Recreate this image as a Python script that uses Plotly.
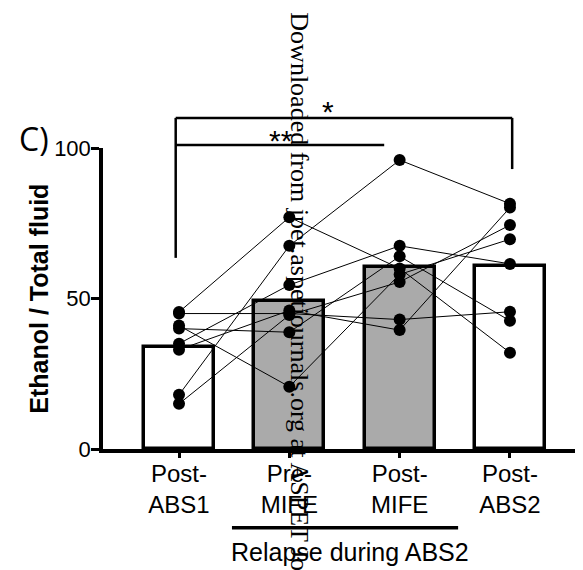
import plotly.graph_objects as go

# ---- data ----
categories = ["Post-<br>ABS1", "Pre-<br>MIFE", "Post-<br>MIFE", "Post-<br>ABS2"]
bar_means = [34.0, 49.2, 60.4, 60.9]
bar_colors = ["white", "#aaaaaa", "#aaaaaa", "white"]

# individual animals: values at Post-ABS1, Pre-MIFE, Post-MIFE, Post-ABS2
animal_A = [45.5, 77.0, 60.0, 32.0]
animal_B = [18.0, 67.5, 96.0, 81.5]
animal_C = [15.0, 44.5, 55.5, 74.4]
animal_D = [41.0, 20.7, 58.0, 69.7]
animal_E = [35.0, 54.5, 67.5, 61.5]
animal_F = [45.0, 45.0, 43.0, 45.6]
animal_G = [40.0, 38.8, 64.0, 42.6]
animal_H = [33.0, 46.0, 39.5, 80.2]
animals = [animal_A, animal_B, animal_C, animal_D, animal_E, animal_F, animal_G, animal_H]

y_ticks = [0, 50, 100]

xpos = list(range(len(categories)))

fig = go.Figure()
fig.add_trace(go.Bar(
    x=xpos, y=bar_means, width=0.635,
    marker=dict(color=bar_colors, line=dict(color="black", width=3.5)),
    showlegend=False, hoverinfo="skip",
))
for a in animals:
    fig.add_trace(go.Scatter(
        x=xpos, y=a, mode="lines+markers",
        line=dict(color="black", width=1),
        marker=dict(color="black", size=12),
        showlegend=False,
    ))

YMAX = 100.0
def py(v):
    return v / YMAX

line_kw = dict(color="black", width=2.5)
shapes = [
    # * bracket
    dict(type="line", xref="x", yref="paper", x0=-0.03, x1=3.02, y0=py(110), y1=py(110), line=line_kw),
    dict(type="line", xref="x", yref="paper", x0=-0.03, x1=-0.03, y0=py(110), y1=py(63.5), line=line_kw),
    dict(type="line", xref="x", yref="paper", x0=3.02, x1=3.02, y0=py(110), y1=py(93), line=line_kw),
    # ** bracket
    dict(type="line", xref="x", yref="paper", x0=-0.03, x1=1.86, y0=py(101), y1=py(101), line=line_kw),
    # relapse line
    dict(type="line", xref="x", yref="paper", x0=0.48, x1=2.53, y0=-0.262, y1=-0.262,
         line=dict(color="black", width=3.5)),
]

base = dict(showarrow=False, xanchor="center", yanchor="middle")
annotations = [
    dict(text="*", xref="x", yref="paper", x=1.35, y=1.12,
         font=dict(size=30, color="black", family="Liberation Sans"), **base),
    dict(text="**", xref="x", yref="paper", x=0.92, y=1.025,
         font=dict(size=30, color="black", family="Liberation Sans"), **base),
    dict(text="Relapse during ABS2", xref="x", yref="paper", x=1.55, y=-0.342,
         font=dict(size=25, color="black", family="Liberation Sans"), **base),
    dict(text="<b>Ethanol / Total fluid</b>", xref="paper", yref="paper", x=-0.135, y=0.5, textangle=-90,
         font=dict(size=25, color="black", family="Liberation Sans"), **base),
    dict(text="C)", xref="paper", yref="paper", x=-0.144, y=1.033,
         font=dict(size=32, color="black", family="Open Sans"), **base),
    dict(text="Downloaded from jpet.aspetjournals.org at ASPET Journals on April 19, 2024",
         xref="paper", yref="paper", x=0.41, y=1.458, textangle=90, showarrow=False,
         xanchor="center", yanchor="top",
         font=dict(size=26, color="black", family="Liberation Serif")),
]

fig.update_layout(
    width=575, height=562,
    margin=dict(l=95, r=0, t=140, b=121),
    paper_bgcolor="white", plot_bgcolor="white",
    shapes=shapes, annotations=annotations,
    bargap=0,
    xaxis=dict(
        range=[-0.689, 3.662], tickvals=xpos, ticktext=categories,
        showgrid=False, zeroline=False, showline=True, linecolor="black", linewidth=3.5,
        ticks="outside", ticklen=5, tickwidth=2.5, tickcolor="black",
        ticklabelstandoff=-5,
        tickfont=dict(size=24, color="black", family="Liberation Sans"),
    ),
    yaxis=dict(
        range=[0, YMAX], tickvals=y_ticks,
        showgrid=False, zeroline=False, showline=True, linecolor="black", linewidth=3.5,
        ticks="outside", ticklen=8, tickwidth=2.5, tickcolor="black",
        ticklabelstandoff=-4,
        tickfont=dict(size=22, color="black", family="Liberation Sans"),
    ),
)

fig.write_html("out.html")
